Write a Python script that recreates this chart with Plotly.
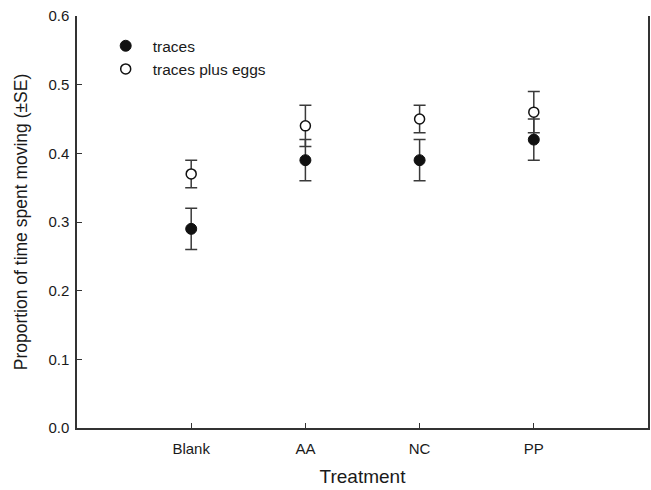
import plotly.graph_objects as go

categories = ["Blank", "AA", "NC", "PP"]
x_pos = [1, 2, 3, 4]
traces_mean = [0.29, 0.39, 0.39, 0.42]
traces_se = [0.03, 0.03, 0.03, 0.03]
eggs_mean = [0.37, 0.44, 0.45, 0.46]
eggs_se = [0.02, 0.03, 0.02, 0.03]
y_ticks = [0.0, 0.1, 0.2, 0.3, 0.4, 0.5, 0.6]

font = "Arial, Liberation Sans, sans-serif"
err_color = "#3a3a3a"
txt = "#1a1a1a"

fig = go.Figure()
fig.add_trace(go.Scatter(
    x=x_pos, y=traces_mean, mode="markers", name="traces",
    marker=dict(size=11, color="#111111", line=dict(color="#111111", width=1)),
    error_y=dict(type="data", array=traces_se, visible=True, color=err_color, thickness=1.5, width=6),
))
fig.add_trace(go.Scatter(
    x=x_pos, y=eggs_mean, mode="markers", name="traces plus eggs",
    marker=dict(size=10, color="white", line=dict(color="#111111", width=1.5)),
    error_y=dict(type="data", array=eggs_se, visible=True, color=err_color, thickness=1.5, width=6),
))

fig.update_layout(
    width=651, height=490,
    margin=dict(l=77, r=1, t=16, b=62),
    plot_bgcolor="white", paper_bgcolor="white",
    font=dict(family=font, size=15, color=txt),
    showlegend=True,
    legend=dict(x=0.038, y=0.968, xanchor="left", yanchor="top",
                bgcolor="rgba(0,0,0,0)", font=dict(size=15.5, family=font, color=txt),
                tracegroupgap=0, itemsizing="trace", itemwidth=44),
    xaxis=dict(range=[0, 5], tickvals=x_pos, ticktext=categories,
               showline=True, linecolor="#333333", linewidth=1.5,
               ticks="inside", ticklen=5, tickcolor="#333333", tickwidth=1.2,
               tickfont=dict(size=15, family=font, color=txt), ticklabelstandoff=6,
               showgrid=False, zeroline=False,
               title=dict(text="Treatment", font=dict(size=19, family=font, color=txt), standoff=14)),
    yaxis=dict(range=[0, 0.6], tickvals=y_ticks, ticktext=[f"{v:.1f}" for v in y_ticks],
               showline=True, linecolor="#333333", linewidth=1.5, mirror=True,
               ticks="inside", ticklen=5, tickcolor="#333333", tickwidth=1.2,
               tickfont=dict(size=15, family=font, color=txt), ticklabelstandoff=3,
               showgrid=False, zeroline=False,
               title=dict(text="Proportion of time spent moving (±SE)",
                          font=dict(size=17.5, family=font, color=txt), standoff=16)),
)

fig.write_html("out.html", config={"displayModeBar": False},
               post_script="document.body.style.margin='0';document.body.style.overflow='hidden';")
